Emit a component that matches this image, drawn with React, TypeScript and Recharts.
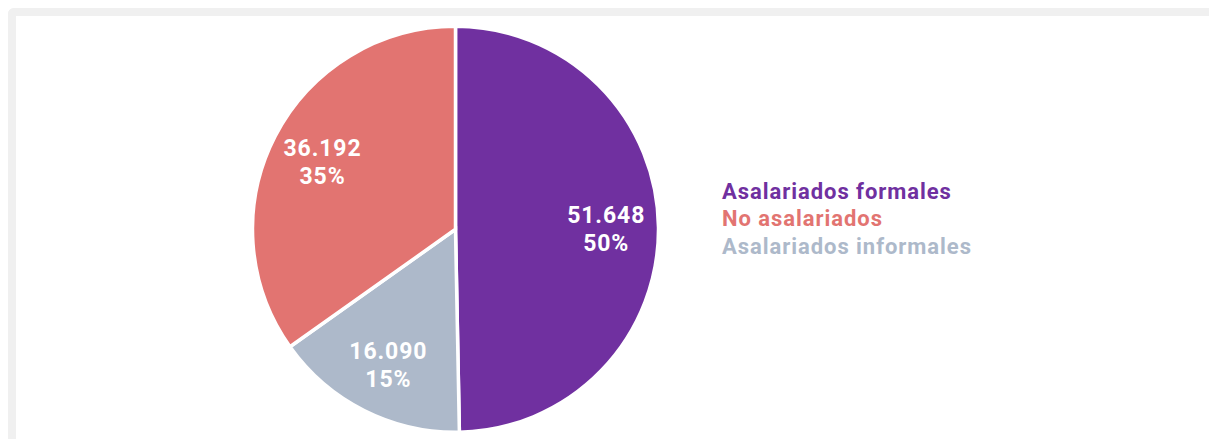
import React from 'react';
import { PieChart, Pie, Cell, Legend } from 'recharts';

const categories = ['Asalariados formales', 'Asalariados informales', 'No asalariados'];
const values = [51648, 16090, 36192];
const colors = ['#7030a0', '#adb9ca', '#e27471'];
const legendOrder = ['Asalariados formales', 'No asalariados', 'Asalariados informales'];

const data = categories.map((name, i) => ({ name, value: values[i] }));

const fmt = (n: number) => String(n).replace(/\B(?=(\d{3})+(?!\d))/g, '.');
const RADIAN = Math.PI / 180;

const labelStyle = {
  fontFamily: 'Roboto, sans-serif',
  fontWeight: 700,
  fontSize: 23,
  letterSpacing: '0.9px',
};

const renderLabel = (props: any) => {
  const { cx, cy, midAngle, outerRadius, value, percent } = props;
  const r = outerRadius * 0.74;
  const x = cx + r * Math.cos(-midAngle * RADIAN) + 0.5;
  const y = cy + r * Math.sin(-midAngle * RADIAN) + 2;
  return (
    <g>
      <text x={x} y={y - 14} fill="#ffffff" textAnchor="middle" dominantBaseline="central" style={labelStyle}>
        {fmt(value)}
      </text>
      <text x={x} y={y + 14} fill="#ffffff" textAnchor="middle" dominantBaseline="central" style={labelStyle}>
        {Math.round(percent * 100)}%
      </text>
    </g>
  );
};

const renderLegend = () => (
  <div
    style={{
      fontFamily: 'Roboto, sans-serif',
      fontWeight: 700,
      fontSize: 22,
      lineHeight: '27.5px',
      letterSpacing: '0.95px',
    }}
  >
    {legendOrder.map((name) => {
      const idx = categories.indexOf(name);
      return (
        <div key={name} style={{ color: colors[idx], whiteSpace: 'nowrap' }}>{name}</div>
      );
    })}
  </div>
);

export default function App() {
  return (
    <div>
      <style>{`html,body{margin:0;overflow:hidden;background:#fff}`}</style>
      <div style={{ paddingTop: 8, paddingLeft: 8 }}>
        <div
          style={{
            width: 1201,
            height: 431,
            boxSizing: 'border-box',
            borderTop: '8px solid #f0f0f0',
            borderLeft: '8px solid #f0f0f0',
            borderTopLeftRadius: 6,
            background: '#ffffff',
            overflow: 'hidden',
          }}
        >
          <PieChart width={1193} height={423} margin={{ top: 0, right: 0, bottom: 0, left: 0 }}>
            <Pie
              data={data}
              dataKey="value"
              nameKey="name"
              cx={439.5}
              cy={213.3}
              outerRadius={203}
              startAngle={90}
              endAngle={-270}
              stroke="#ffffff"
              strokeWidth={3.5}
              label={renderLabel}
              labelLine={false}
              isAnimationActive={false}
            >
              {data.map((d, i) => (
                <Cell key={d.name} fill={colors[i]} />
              ))}
            </Pie>
            <Legend
              content={renderLegend}
              layout="vertical"
              wrapperStyle={{ position: 'absolute', left: 706, top: 161.5, width: 'auto' }}
            />
          </PieChart>
        </div>
      </div>
    </div>
  );
}
